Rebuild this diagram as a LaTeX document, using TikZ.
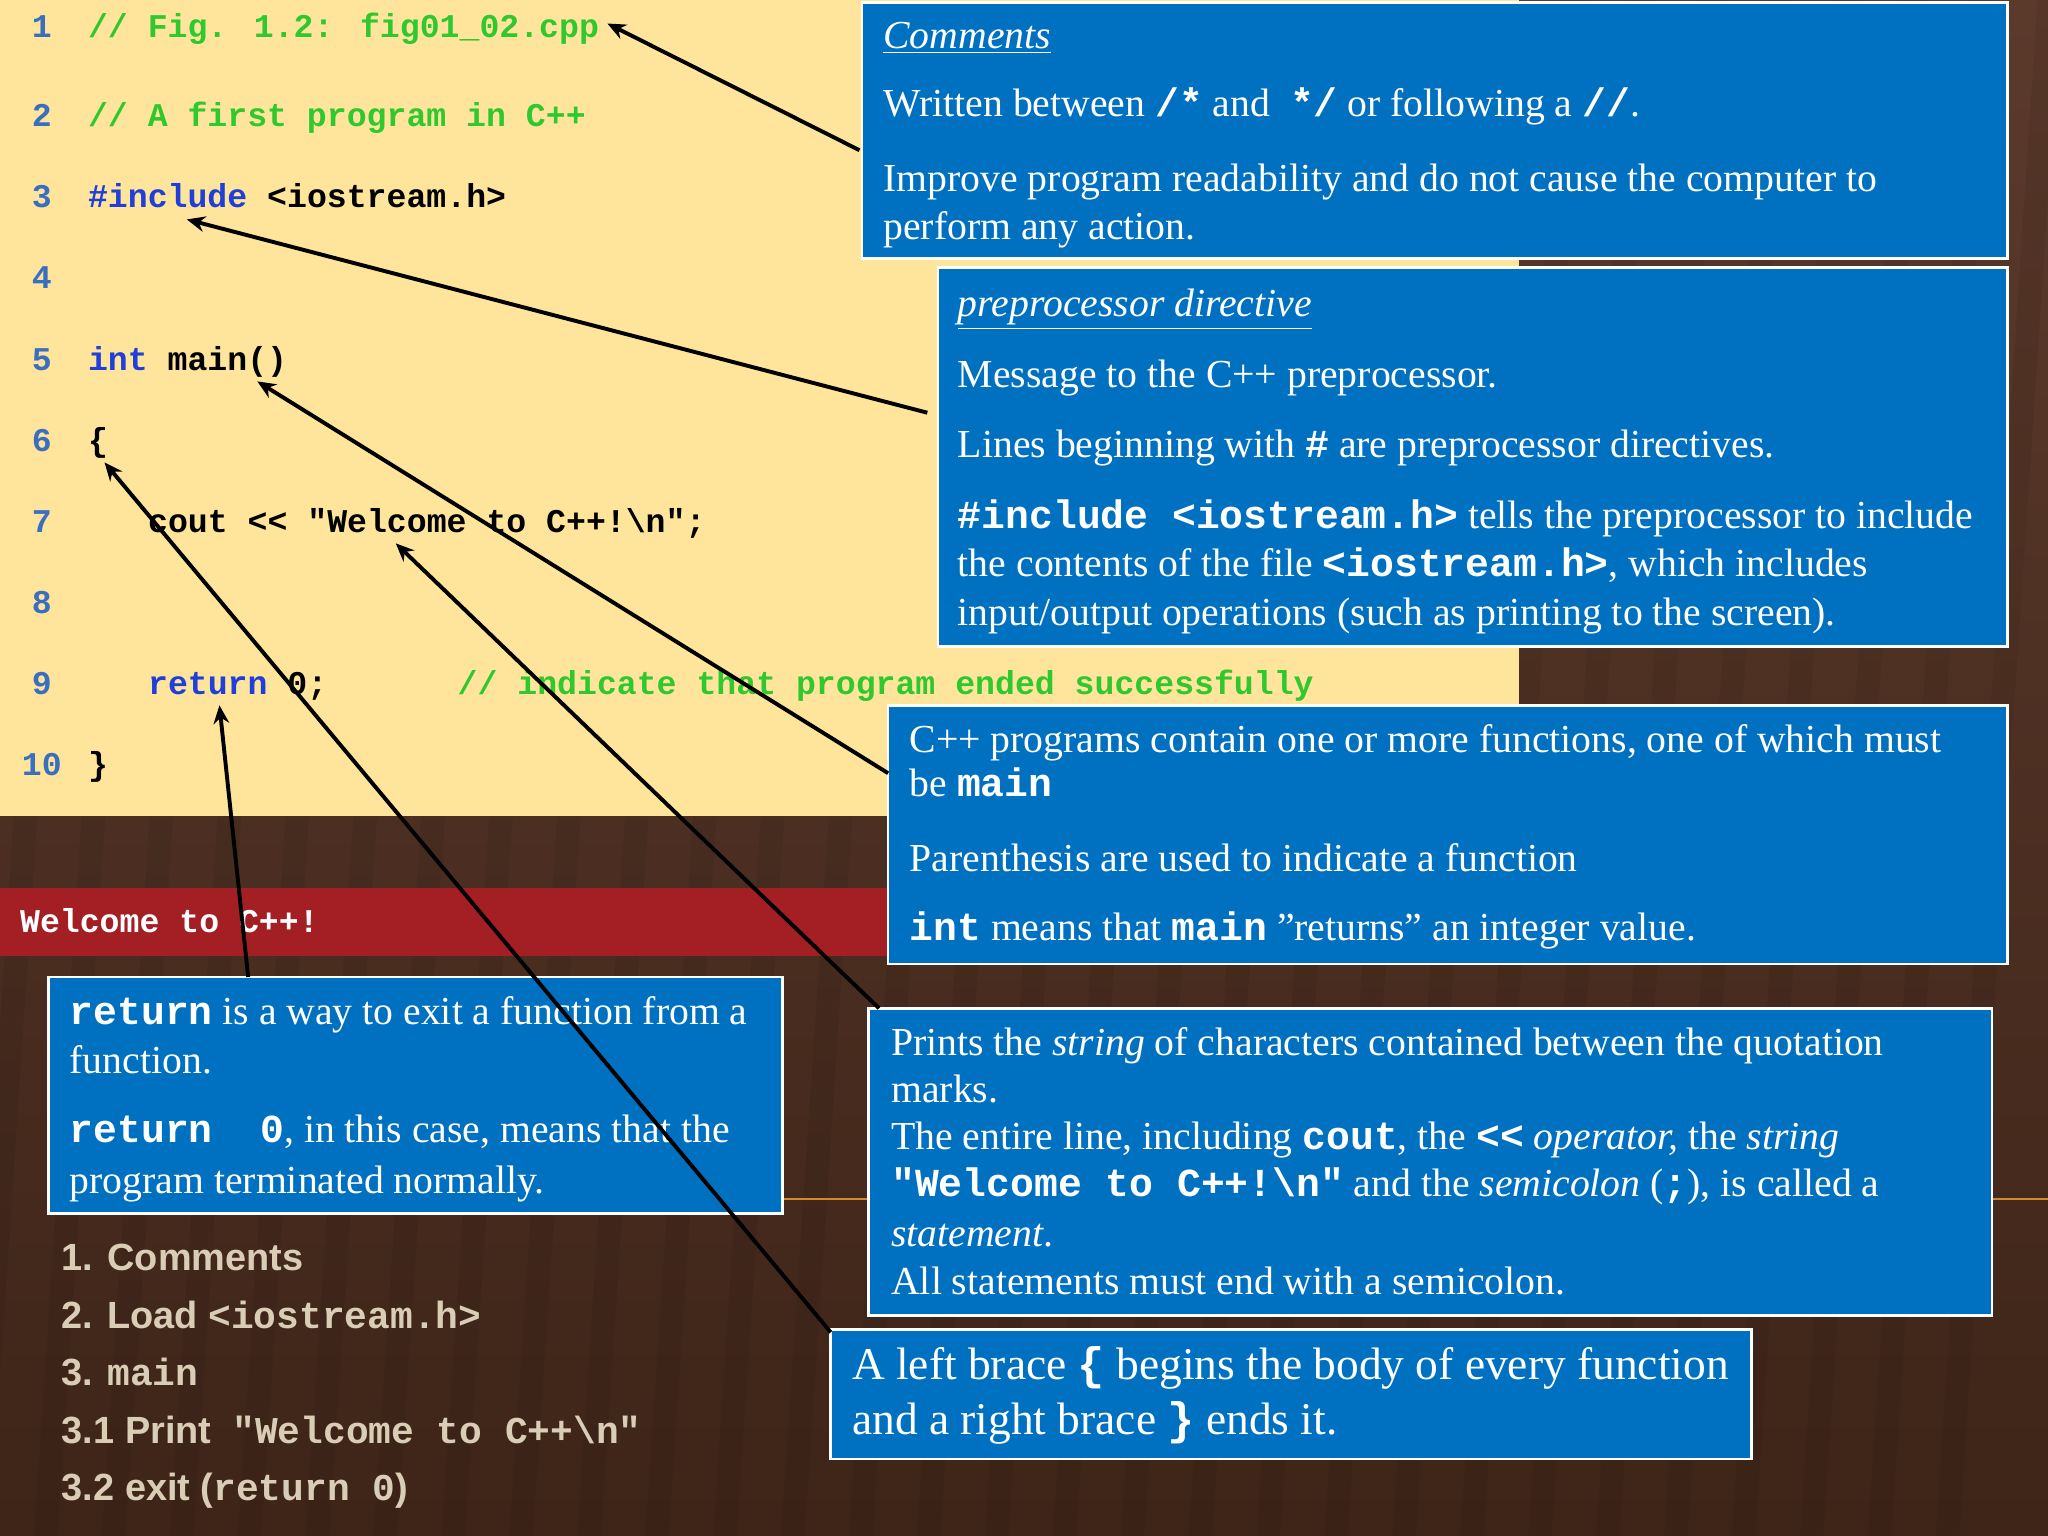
\documentclass[tikz,border=0pt]{standalone}
\usepackage{fontspec}
\setmainfont{Liberation Serif}
\newfontfamily\monof{Liberation Mono}
\newfontfamily\sansf{Liberation Sans}
\usetikzlibrary{arrows.meta}
\definecolor{bgbrown}{HTML}{5B3A2C}
\definecolor{bgdark}{HTML}{3E2518}
\definecolor{codebg}{HTML}{FFE59B}
\definecolor{boxblue}{HTML}{0070C0}
\definecolor{cgreen}{HTML}{2FC82F}
\definecolor{kblue}{HTML}{1F3FD8}
\definecolor{lnblue}{HTML}{3A6FC0}
\definecolor{barred}{HTML}{A31F24}
\definecolor{listtan}{HTML}{D9CDB5}
\definecolor{lineor}{HTML}{D08A30}
\newcommand{\cdb}[1]{{\monof\bfseries #1}}
\newcommand{\dq}{{\char34}}
\tikzset{
  box/.style={fill=boxblue,draw=white,line width=1pt},
  tl/.style={anchor=base west,inner sep=0pt,text=white,font=\fontsize{15.2}{17}\selectfont},
  tlb/.style={tl,font=\fontsize{17.4}{20}\selectfont},
  cl/.style={anchor=base west,inner sep=0pt,font=\monof\bfseries\fontsize{12.7}{14}\selectfont},
  ln/.style={anchor=base,inner sep=0pt,text=lnblue,font=\monof\bfseries\fontsize{12.7}{14}\selectfont},
  li/.style={anchor=base west,inner sep=0pt,text=listtan,font=\sansf\bfseries\fontsize{14.5}{16}\selectfont},
  arr/.style={-{Stealth[length=7pt,width=6pt]},line width=1.5pt,black}
}
\begin{document}
\begin{tikzpicture}[x=0.5pt,y=-0.5pt]
\useasboundingbox (0,0) rectangle (1568,1176);
\shade[top color=bgbrown,bottom color=bgdark] (0,0) rectangle (1568,1176);
\foreach \i in {0,...,30}{\fill[black,opacity=0.06] (\i*52,0) -- (\i*52+18,0) -- (\i*52-60,1176) -- (\i*52-78,1176) -- cycle;}
\fill[codebg] (0,0) rectangle (1163,625);
\draw[lineor,line width=1pt] (599,918) -- (665,918);
\draw[lineor,line width=1pt] (1525,918) -- (1568,918);
% code
\foreach \n/\y in {1/29,2/97,3/159,4/221,5/284,6/346,7/408,8/470,9/532}{\node[ln] (l\n) at (32,\y) {\n};}
\node[ln] (l10) at (32,594) {10};
\node[cl,text=cgreen] (c1) at (67,29) {// Fig. 1.2: fig01\_02.cpp};
\node[cl,text=cgreen] (c2) at (67,97) {// A first program in C++};
\node[cl] (c3) at (67,159) {\textcolor{kblue}{\#include} <iostream.h>};
\node[cl] (c5) at (67,284) {\textcolor{kblue}{int} main()};
\node[cl] (c6) at (67,346) {\{};
\node[cl] (c7) at (113,408) {cout << "Welcome to C++!\textbackslash n";};
\node[cl] (c9) at (113,532) {\textcolor{kblue}{return} 0;};
\node[cl,text=cgreen] (c9b) at (350,532) {// indicate that program ended successfully};
\node[cl] (c10) at (67,594) {\}};
% output bar
\fill[barred] (0,680) rectangle (680,732);
\node[cl,text=white] (out) at (15,714) {Welcome to C++!};
% boxes
\draw[box] (660,2) rectangle (1537,198);
\draw[box] (718,205) rectangle (1537,495);
\draw[box] (680,540) rectangle (1537,738);
\draw[box] (665,772) rectangle (1525,1007);
\draw[box] (636,1018) rectangle (1341,1117);
\draw[box] (37,748) rectangle (599,929);
% box 1
\node[tl] (a1) at (676,37) {\underline{\itshape Comments}};
\node[tl] (a2) at (676,89) {Written between \cdb{/*} and \ \cdb{*/} or following a \cdb{//}.};
\node[tl] (a3) at (676,147) {Improve program readability and do not cause the computer to};
\node[tl] (a4) at (676,183) {perform any action.};
% box 2
\node[tl] (b1) at (733,242) {\underline{\itshape preprocessor directive}};
\node[tl] (b2) at (733,297) {Message to the C++ preprocessor.};
\node[tl] (b3) at (733,350) {Lines beginning with \cdb{\#} are preprocessor directives.};
\node[tl] (b4) at (733,405) {\cdb{\#include <iostream.h>} tells the preprocessor to include};
\node[tl] (b5) at (733,441) {the contents of the file \cdb{<iostream.h>}, which includes};
\node[tl] (b6) at (733,479) {input/output operations (such as printing to the screen).};
% box 3
\node[tl] (m1) at (696,576) {C++ programs contain one or more functions, one of which must};
\node[tl] (m2) at (696,610) {be \cdb{main}};
\node[tl] (m3) at (696,667) {Parenthesis are used to indicate a function};
\node[tl] (m4) at (696,720) {\cdb{int} means that \cdb{main} \dq returns\dq{} an integer value.};
% box 4
\node[tl] (p1) at (682,808) {Prints the \textit{string} of characters contained between the quotation};
\node[tl] (p2) at (682,844) {marks.};
\node[tl] (p3) at (682,880) {The entire line, including \cdb{cout}, the \cdb{<<} \textit{operator,} the \textit{string}};
\node[tl] (p4) at (682,916) {\cdb{"Welcome to C++!\textbackslash n"} and the \textit{semicolon} (\cdb{;}), is called a};
\node[tl] (p5) at (682,954) {\textit{statement}.};
\node[tl] (p6) at (682,991) {All statements must end with a semicolon.};
% box 5
\node[tlb] (q1) at (652,1056) {A left brace \cdb{\{} begins the body of every function};
\node[tlb] (q2) at (652,1098) {and a right brace \cdb{\}} ends it.};
% box 6
\node[tl] (r1) at (53,784) {\cdb{return} is a way to exit a function from a};
\node[tl] (r2) at (53,822) {function.};
\node[tl] (r3) at (53,875) {\cdb{return\ \ 0}, in this case, means that the};
\node[tl] (r4) at (53,914) {program terminated normally.};
% list
\node[li] (s1) at (47,973) {1. Comments};
\node[li] (s2) at (47,1017) {2. Load {\monof <iostream.h>}};
\node[li] (s3) at (47,1061) {3. {\monof main}};
\node[li] (s4) at (47,1105) {3.1 Print\ \ {\monof "Welcome to C++\textbackslash n"}};
\node[li] (s5) at (47,1149) {3.2 exit ({\monof return 0})};
% arrows
\coordinate (f1) at (658,115); \coordinate (t1) at (465,18);
\coordinate (f2) at (710,316); \coordinate (t2) at (143,168);
\coordinate (f3) at (680,592); \coordinate (t3) at (197,292);
\coordinate (f4) at (673,772); \coordinate (t4) at (303,416);
\coordinate (f5) at (636,1020); \coordinate (t5) at (80,354);
\coordinate (f6) at (190,748); \coordinate (t6) at (168,540);
\foreach \k in {1,...,6}{\draw[arr] (f\k) -- (t\k);}
\end{tikzpicture}
\end{document}
